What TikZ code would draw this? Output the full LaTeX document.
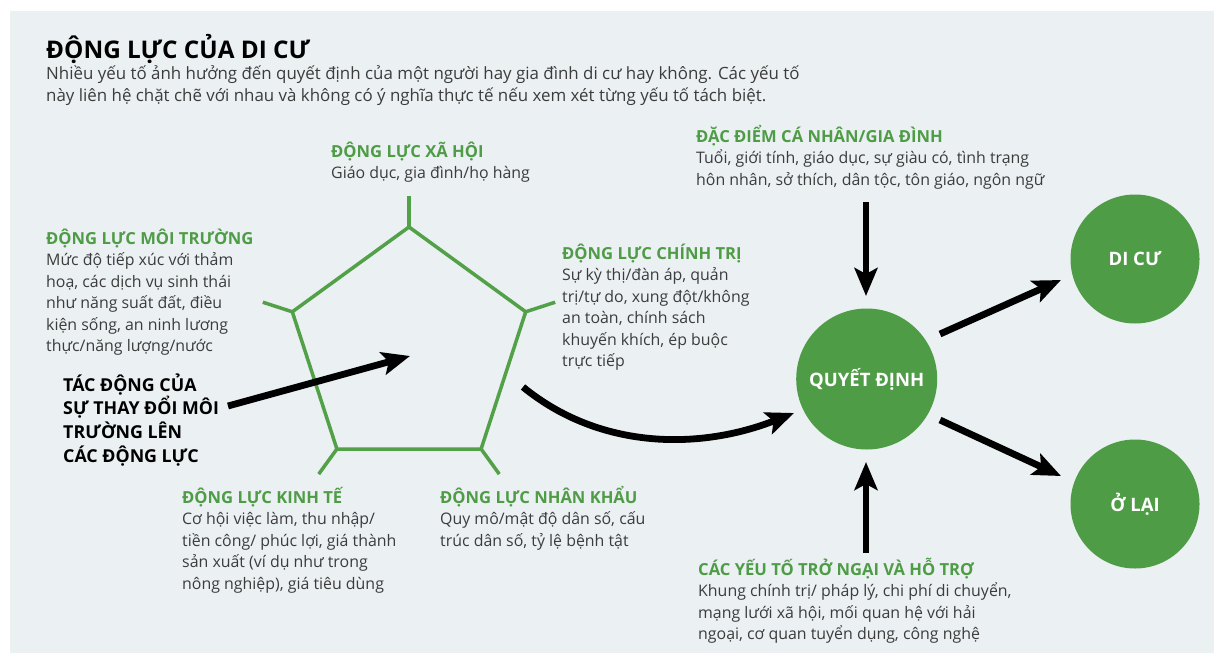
\documentclass[tikz,border=0pt]{standalone}
\usepackage{fontspec}
\setmainfont{Open Sans}
\usetikzlibrary{arrows.meta}
\definecolor{bg}{HTML}{EBF0F3}
\definecolor{grn}{HTML}{4F9C46}
\definecolor{pent}{HTML}{52A048}
\definecolor{txt}{HTML}{3C3C3C}
\newcommand\tstrut{\rule{0pt}{20pt}}
\newcommand\hdg[1]{{\bfseries\color{grn}\fontsize{16.6}{21.5}\selectfont #1}}
\tikzset{
  blk/.style={anchor=north west, inner sep=0pt, align=left, text=txt,
    font=\fontsize{15.9}{21.5}\selectfont},
  ttl/.style={anchor=north west, inner sep=0pt, align=left, text=black,
    font=\bfseries\fontsize{24.3}{28}\selectfont},
  sub/.style={anchor=north west, inner sep=0pt, align=left, text=txt,
    font=\fontsize{16.9}{22}\selectfont},
  tac/.style={anchor=north west, inner sep=0pt, align=left, text=black,
    font=\bfseries\fontsize{17.8}{23.7}\selectfont},
  circ/.style={circle, fill=grn, inner sep=0pt, text=white,
    font=\bfseries\fontsize{18.5}{20}\selectfont},
  bigarrow/.style={line width=6.8pt, -{Stealth[length=28pt,width=23pt,inset=6pt]}},
}
\begin{document}
\begin{tikzpicture}[x=1pt,y=-1pt]
\useasboundingbox (0,0) rectangle (1214,653);
\fill[bg] (10,11) rectangle (1214,653);

% title
\node[ttl] (title) at (46,34) {\tstrut ĐỘNG LỰC CỦA DI CƯ};
\node[sub] (subt) at (46,59.5) {\tstrut Nhiều yếu tố ảnh hưởng đến quyết định của một người hay gia đình di cư hay không. Các yếu tố\\
này liên hệ chặt chẽ với nhau và không có ý nghĩa thực tế nếu xem xét từng yếu tố tách biệt.};

% pentagon
\coordinate (pT) at (409,227);
\coordinate (pUL) at (292.3,311.8);
\coordinate (pUR) at (525.7,311.8);
\coordinate (pLL) at (336.9,449);
\coordinate (pLR) at (481.1,449);
\draw[pent, line width=3.5pt, line join=miter] (pT) -- (pUR) -- (pLR) -- (pLL) -- (pUL) -- cycle;
\draw[pent, line width=3.5pt] (pT) -- (409,196);
\draw[pent, line width=3.5pt] (pUL) -- (262.8,302.2);
\draw[pent, line width=3.5pt] (pUR) -- (555.2,302.2);
\draw[pent, line width=3.5pt] (pLL) -- (318.7,474.1);
\draw[pent, line width=3.5pt] (pLR) -- (499.3,474.1);

% driver texts
\node[blk] (xahoi) at (331,137) {\tstrut\hdg{ĐỘNG LỰC XÃ HỘI}\\Giáo dục, gia đình/họ hàng};
\node[blk] (moitruong) at (46,224) {\tstrut\hdg{ĐỘNG LỰC MÔI TRƯỜNG}\\Mức độ tiếp xúc với thảm\\hoạ, các dịch vụ sinh thái\\như năng suất đất, điều\\kiện sống, an ninh lương\\thực/năng lượng/nước};
\node[blk] (chinhtri) at (562,239) {\tstrut\hdg{ĐỘNG LỰC CHÍNH TRỊ}\\Sự kỳ thị/đàn áp, quản\\trị/tự do, xung đột/không\\an toàn, chính sách\\khuyến khích, ép buộc\\trực tiếp};
\node[blk] (kinhte) at (182,483) {\tstrut\hdg{ĐỘNG LỰC KINH TẾ}\\Cơ hội việc làm, thu nhập/\\tiền công/ phúc lợi, giá thành\\sản xuất (ví dụ như trong\\nông nghiệp), giá tiêu dùng};
\node[blk] (nhankhau) at (440,483) {\tstrut\hdg{ĐỘNG LỰC NHÂN KHẨU}\\Quy mô/mật độ dân số, cấu\\trúc dân số, tỷ lệ bệnh tật};
\node[blk] (canhan) at (696,122) {\tstrut\hdg{ĐẶC ĐIỂM CÁ NHÂN/GIA ĐÌNH}\\Tuổi, giới tính, giáo dục, sự giàu có, tình trạng\\hôn nhân, sở thích, dân tộc, tôn giáo, ngôn ngữ};
\node[blk] (trongai) at (698,555) {\tstrut\hdg{CÁC YẾU TỐ TRỞ NGẠI VÀ HỖ TRỢ}\\Khung chính trị/ pháp lý, chi phí di chuyển,\\mạng lưới xã hội, mối quan hệ với hải\\ngoại, cơ quan tuyển dụng, công nghệ};
\node[tac] (tacdong) at (63,371) {\tstrut TÁC ĐỘNG CỦA\\SỰ THAY ĐỔI MÔI\\TRƯỜNG LÊN\\CÁC ĐỘNG LỰC};

% circles
\node[circ, minimum size=141pt] (qd) at (866.7,379) {QUYẾT ĐỊNH};
\node[circ, minimum size=129pt] (dc) at (1135,259) {DI CƯ};
\node[circ, minimum size=129pt] (ol) at (1135,504) {Ở LẠI};

% arrows
\coordinate (aS) at (228,406);
\coordinate (aE) at (410,356);
\draw[bigarrow] (aS) -- (aE);
\coordinate (cS) at (523,387);
\coordinate (cE) at (794,413);
\draw[bigarrow] (cS) .. controls (600,450) and (700,450) .. (cE);
\coordinate (tS) at (866,202);
\coordinate (tE) at (866,296);
\draw[bigarrow] (tS) -- (tE);
\coordinate (bS) at (866,553);
\coordinate (bE) at (866,462);
\draw[bigarrow] (bS) -- (bE);
\coordinate (dS) at (940,334);
\coordinate (dE) at (1061,280);
\draw[bigarrow] (dS) -- (dE);
\coordinate (oS) at (940,420);
\coordinate (oE) at (1061,476);
\draw[bigarrow] (oS) -- (oE);
\end{tikzpicture}
\end{document}
